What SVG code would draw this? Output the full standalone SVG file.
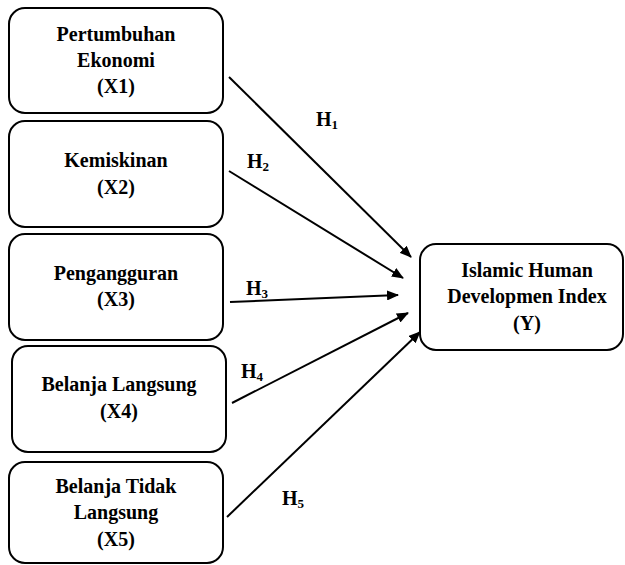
<svg xmlns="http://www.w3.org/2000/svg" width="625" height="565" viewBox="0 0 625 565">
<style>
.box{fill:#fff;stroke:#000;stroke-width:2}
.t{font-family:'Liberation Serif','Tinos','DejaVu Serif',serif;font-weight:700;font-size:20px;fill:#000;text-anchor:middle}
.h{font-family:'Liberation Serif','Tinos','DejaVu Serif',serif;font-weight:700;font-size:20px;fill:#000}
.s{font-size:13px}
.c{stroke:#000;stroke-width:2;fill:none;marker-end:url(#ah)}
</style>
<defs>
<marker id="ah" viewBox="0 0 12 10" refX="11" refY="5" markerWidth="12" markerHeight="10" markerUnits="userSpaceOnUse" orient="auto">
<path d="M0,0 L12,5 L0,10 z" fill="#000"/>
</marker>
</defs>
<rect width="625" height="565" fill="#fff"/>
<g id="x1">
<rect class="box" x="9" y="8" width="214" height="105" rx="16"/>
<text class="t" x="116" y="41">Pertumbuhan</text>
<text class="t" x="116" y="67">Ekonomi</text>
<text class="t" x="116" y="93">(X1)</text>
</g>
<g id="x2">
<rect class="box" x="9" y="121" width="214" height="106" rx="16"/>
<text class="t" x="116" y="167">Kemiskinan</text>
<text class="t" x="116" y="194">(X2)</text>
</g>
<g id="x3">
<rect class="box" x="9" y="234" width="214" height="106" rx="16"/>
<text class="t" x="116" y="280">Pengangguran</text>
<text class="t" x="116" y="306">(X3)</text>
</g>
<g id="x4">
<rect class="box" x="12" y="346" width="214" height="106" rx="16"/>
<text class="t" x="119" y="391">Belanja Langsung</text>
<text class="t" x="119" y="418">(X4)</text>
</g>
<g id="x5">
<rect class="box" x="9" y="462" width="214" height="101" rx="16"/>
<text class="t" x="116" y="493">Belanja Tidak</text>
<text class="t" x="116" y="519">Langsung</text>
<text class="t" x="116" y="546">(X5)</text>
</g>
<g id="y">
<rect class="box" x="420" y="244" width="203" height="106" rx="16"/>
<text class="t" x="527" y="277">Islamic Human</text>
<text class="t" x="527" y="303">Developmen Index</text>
<text class="t" x="527" y="330">(Y)</text>
</g>
<g id="connectors">
<line class="c" x1="229" y1="77" x2="411" y2="257"/>
<line class="c" x1="229" y1="171" x2="403" y2="278"/>
<line class="c" x1="230" y1="302" x2="398" y2="295"/>
<line class="c" x1="232" y1="403" x2="408" y2="313"/>
<line class="c" x1="227" y1="517" x2="420" y2="332"/>
</g>
<g id="labels">
<text class="h" x="316" y="126">H<tspan class="s" dy="3">1</tspan></text>
<text class="h" x="247" y="168">H<tspan class="s" dy="3">2</tspan></text>
<text class="h" x="246" y="295">H<tspan class="s" dy="3">3</tspan></text>
<text class="h" x="241" y="378">H<tspan class="s" dy="3">4</tspan></text>
<text class="h" x="282" y="505">H<tspan class="s" dy="3">5</tspan></text>
</g>
</svg>
